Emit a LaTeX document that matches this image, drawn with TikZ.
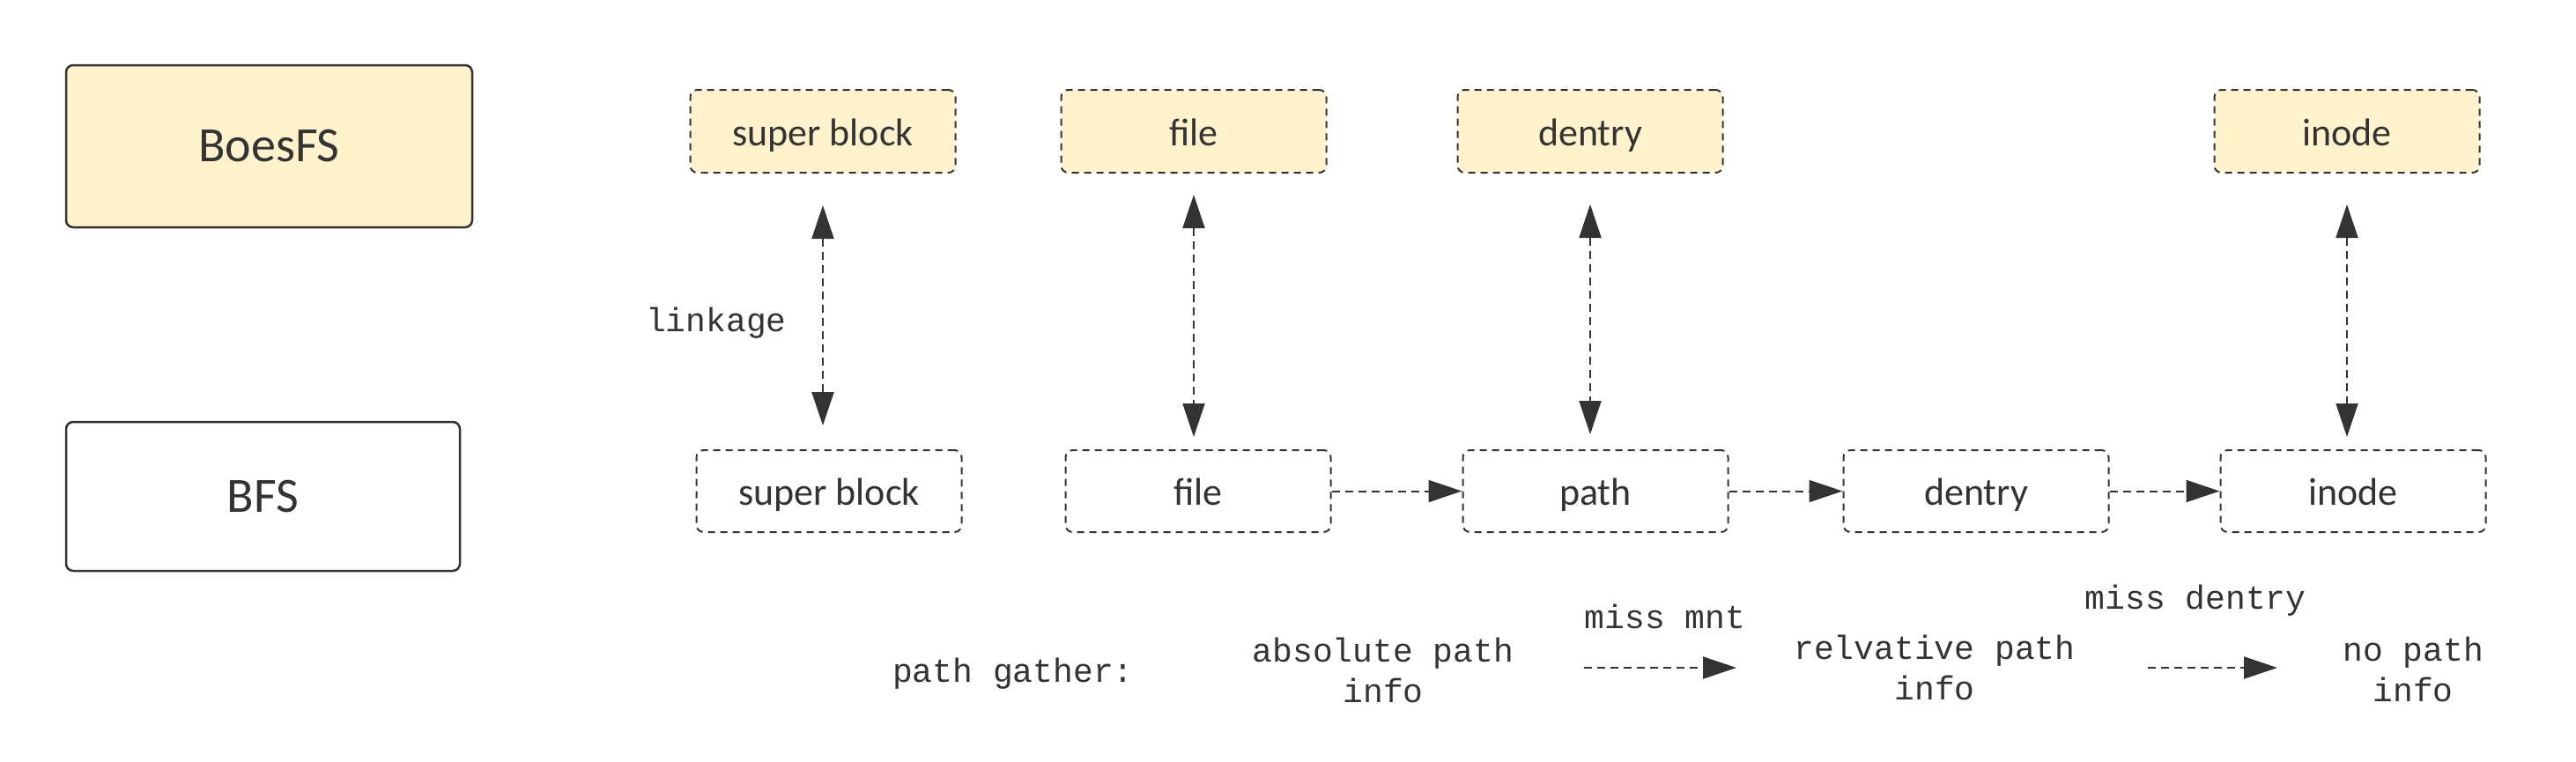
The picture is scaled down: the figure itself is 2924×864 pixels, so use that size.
\documentclass[tikz,border=0pt]{standalone}
\usepackage{fontspec}
\setmainfont{Carlito}
\newfontfamily\monof{Liberation Mono}
\usetikzlibrary{arrows.meta}
\definecolor{ink}{HTML}{333333}
\definecolor{yel}{HTML}{FFF2CC}
\begin{document}
\begin{tikzpicture}[x=0.5pt,y=-0.5pt,
  bigbox/.style={draw=ink, line width=1.25pt, rounded corners=4pt, text=ink,
    font=\fontsize{28}{34}\selectfont, inner sep=0pt},
  tbox/.style={draw=ink, fill=yel, line width=1pt, dash pattern=on 4pt off 3pt,
    rounded corners=4pt, minimum width=150.5pt, minimum height=47pt, text=ink,
    font=\fontsize{22}{26}\selectfont, inner sep=0pt, text height=16pt, text depth=0pt},
  bbox/.style={tbox, fill=none, minimum height=46.5pt},
  mono/.style={text=ink, font=\monof\fontsize{19}{23}\selectfont, inner sep=0pt, align=center},
  arr/.style={draw=ink, line width=1pt, dash pattern=on 4.5pt off 3pt,
    -{Triangle[length=19pt,width=12.5pt]}},
  darr/.style={draw=ink, line width=1pt, dash pattern=on 4.5pt off 3pt,
    {Triangle[length=19pt,width=12.5pt]}-{Triangle[length=19pt,width=12.5pt]}}
]
\useasboundingbox (0,0) rectangle (2924,864);
% left boxes
\node[bigbox, fill=yel, minimum width=230.5pt, minimum height=92pt] (boes) at (305.5,166) {BoesFS};
\node[bigbox, minimum width=223.5pt, minimum height=84.5pt] (bfs) at (298.5,563.5) {BFS};
% top row
\node[tbox] (tsb) at (934,149) {super block};
\node[tbox] (tfile) at (1355,149) {file};
\node[tbox] (tdentry) at (1805,149) {dentry};
\node[tbox] (tinode) at (2664,149) {inode};
% bottom row
\node[bbox] (bsb) at (941,557.5) {super block};
\node[bbox] (bfile) at (1360,557.5) {file};
\node[bbox] (bpath) at (1811,557.5) {path};
\node[bbox] (bdentry) at (2243,557.5) {dentry};
\node[bbox] (binode) at (2671,557.5) {inode};
% vertical linkage arrows
\draw[darr, shorten <=18pt, shorten >=13.5pt] (tsb.south) -- (tsb.south |- bsb.north);
\draw[darr, shorten <=12pt, shorten >=7pt] (tfile.south) -- (tfile.south |- bfile.north);
\draw[darr, shorten <=17.5pt, shorten >=8.5pt] (tdentry.south) -- (tdentry.south |- bpath.north);
\draw[darr, shorten <=17.5pt, shorten >=7pt] (tinode.south) -- (tinode.south |- binode.north);
\node[mono] (lk) at (813,367) {linkage};
% horizontal arrows
\draw[arr] (bfile.east) -- (bpath.west);
\draw[arr] (bpath.east) -- (bdentry.west);
\draw[arr] (bdentry.east) -- (binode.west);
% legend
\node[mono] (pg) at (1150,765) {path gather:};
\node[mono] (abs) at (1570,761) {absolute path\\info};
\node[mono] (rel) at (2196,758) {relvative path\\info};
\node[mono] (nop) at (2739,760) {no path\\info};
\node[mono] (mm) at (1890,700) {miss mnt};
\node[mono] (md) at (2492,682) {miss dentry};
\coordinate (a1s) at (1798,758);
\coordinate (a1e) at (1971,758);
\coordinate (a2s) at (2438,758);
\coordinate (a2e) at (2585,758);
\draw[arr] (a1s) -- (a1e);
\draw[arr] (a2s) -- (a2e);
\end{tikzpicture}
\end{document}
